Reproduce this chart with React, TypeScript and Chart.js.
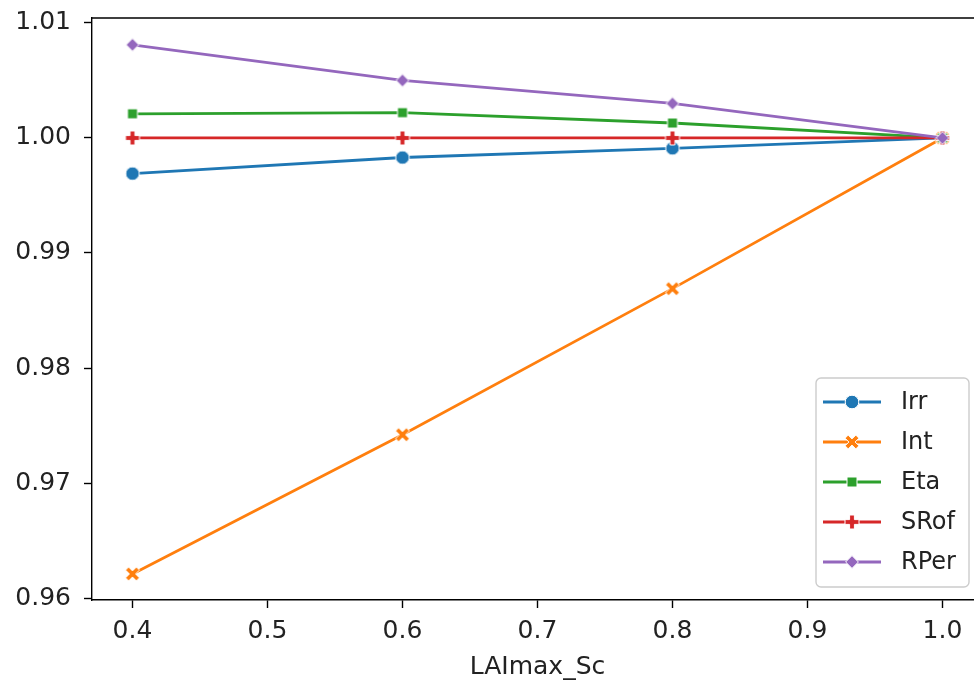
import React, { useEffect, useRef } from 'react';
import { Chart, registerables } from 'chart.js';

Chart.register(...registerables);

// Scenario values along the x axis
const xValues = [0.4, 0.6, 0.8, 1.0];

// Relative responses per variable
const irrValues = [0.9969, 0.9983, 0.9991, 1.0];
const intValues = [0.9621, 0.9742, 0.9869, 1.0];
const etaValues = [1.0021, 1.0022, 1.0013, 1.0];
const srofValues = [1.0, 1.0, 1.0, 1.0];
const rperValues = [1.0081, 1.005, 1.003, 1.0];

const seriesNames = ['Irr', 'Int', 'Eta', 'SRof', 'RPer'];
const seriesColors = ['#1f77b4', '#ff7f0e', '#2ca02c', '#d62728', '#9467bd'];
const seriesMarkers = ['circle', 'x', 'square', 'plus', 'diamond'] as const;

const xTicks = [0.4, 0.5, 0.6, 0.7, 0.8, 0.9, 1.0];
const yTicks = [0.96, 0.97, 0.98, 0.99, 1.0, 1.01];
const xTitle = 'LAImax_Sc';

const FONT = "'DejaVu Sans', sans-serif";
const TEXT = '#222222';
const LINE_W = 2.8;

type MarkerKind = (typeof seriesMarkers)[number];

function tracePolygon(ctx: CanvasRenderingContext2D, pts: number[][], cx: number, cy: number, rot: number) {
  const c = Math.cos(rot);
  const s = Math.sin(rot);
  pts.forEach(([px, py], i) => {
    const x = cx + px * c - py * s;
    const y = cy + px * s + py * c;
    if (i === 0) ctx.moveTo(x, y);
    else ctx.lineTo(x, y);
  });
  ctx.closePath();
}

function plusPoints(a: number, b: number) {
  return [
    [-b, -a], [b, -a], [b, -b], [a, -b], [a, b], [b, b],
    [b, a], [-b, a], [-b, b], [-a, b], [-a, -b], [-b, -b],
  ];
}

function drawMarker(ctx: CanvasRenderingContext2D, kind: MarkerKind, cx: number, cy: number, color: string) {
  ctx.save();
  ctx.beginPath();
  switch (kind) {
    case 'circle':
      ctx.arc(cx, cy, 6.8, 0, Math.PI * 2);
      break;
    case 'square':
      ctx.rect(cx - 5, cy - 5, 10, 10);
      break;
    case 'diamond':
      tracePolygon(ctx, [[0, -6.4], [6.4, 0], [0, 6.4], [-6.4, 0]], cx, cy, 0);
      break;
    case 'plus':
      tracePolygon(ctx, plusPoints(7, 2.4), cx, cy, 0);
      break;
    case 'x':
      tracePolygon(ctx, plusPoints(7.6, 2.2), cx, cy, Math.PI / 4);
      break;
  }
  ctx.fillStyle = color;
  ctx.fill();
  ctx.lineWidth = 1;
  ctx.strokeStyle = '#ffffff';
  ctx.stroke();
  ctx.restore();
}

function markerImage(kind: MarkerKind, color: string) {
  const c = document.createElement('canvas');
  c.width = 22;
  c.height = 22;
  const ctx = c.getContext('2d')!;
  drawMarker(ctx, kind, 11, 11, color);
  return c;
}

// Top and right spines
const framePlugin = {
  id: 'frame',
  afterDatasetsDraw(chart: any) {
    const { ctx, chartArea: a } = chart;
    ctx.save();
    ctx.strokeStyle = '#000000';
    ctx.lineWidth = 1.4;
    ctx.beginPath();
    ctx.moveTo(a.left - 0.7, a.top);
    ctx.lineTo(a.right + 0.7, a.top);
    ctx.moveTo(a.right, a.top);
    ctx.lineTo(a.right, a.bottom);
    ctx.stroke();
    ctx.restore();
  },
};

// Legend in the lower right corner, line + marker per entry
const legendPlugin = {
  id: 'lineLegend',
  afterDraw(chart: any) {
    const { ctx, chartArea: a } = chart;
    const right = a.right - 14;
    const bottom = a.bottom - 13;
    const width = 153;
    const height = 209;
    const left = right - width;
    const top = bottom - height;
    ctx.save();
    ctx.beginPath();
    ctx.roundRect(left, top, width, height, 5);
    ctx.fillStyle = 'rgba(255,255,255,0.8)';
    ctx.fill();
    ctx.strokeStyle = '#cccccc';
    ctx.lineWidth = 1.4;
    ctx.stroke();

    ctx.font = `24px ${FONT}`;
    ctx.textBaseline = 'middle';
    ctx.textAlign = 'left';
    seriesNames.forEach((name, i) => {
      const y = top + 24 + i * 40;
      ctx.beginPath();
      ctx.moveTo(left + 7, y);
      ctx.lineTo(left + 65, y);
      ctx.strokeStyle = seriesColors[i];
      ctx.lineWidth = LINE_W;
      ctx.stroke();
      drawMarker(ctx, seriesMarkers[i], left + 36, y, seriesColors[i]);
      ctx.fillStyle = TEXT;
      ctx.fillText(name, left + 85, y + 1);
    });
    ctx.restore();
  },
};

export default function App() {
  const canvasRef = useRef<HTMLCanvasElement>(null);

  useEffect(() => {
    document.body.style.margin = '0';
    const canvas = canvasRef.current;
    if (!canvas) return;

    const seriesValues = [irrValues, intValues, etaValues, srofValues, rperValues];

    const datasets = seriesNames.map((name, i) => ({
      label: name,
      data: xValues.map((x, j) => ({ x, y: seriesValues[i][j] })),
      borderColor: seriesColors[i],
      backgroundColor: seriesColors[i],
      borderWidth: LINE_W,
      pointStyle: markerImage(seriesMarkers[i], seriesColors[i]) as any,
      pointRadius: 6,
      tension: 0,
      order: seriesNames.length - 1 - i,
    }));

    const tickFont = { family: FONT, size: 25, lineHeight: 1.2 };

    const chart = new Chart(canvas, {
      type: 'line',
      data: { datasets },
      options: {
        animation: false,
        responsive: false,
        devicePixelRatio: 1,
        layout: { padding: { top: 18, right: 17, left: 0, bottom: 0 } },
        plugins: {
          legend: { display: false },
          tooltip: { enabled: false },
        },
        scales: {
          x: {
            type: 'linear',
            min: 0.37,
            max: 1.03,
            afterBuildTicks: (scale: any) => {
              scale.ticks = xTicks.map((v) => ({ value: v }));
            },
            afterFit: (scale: any) => {
              scale.height = 86;
              scale.paddingLeft = 0;
              scale.paddingRight = 0;
            },
            ticks: {
              autoSkip: false,
              maxRotation: 0,
              padding: 8,
              color: TEXT,
              font: tickFont,
              callback: (v: any) => Number(v).toFixed(1),
            },
            grid: {
              drawOnChartArea: false,
              drawTicks: true,
              tickLength: 8,
              tickWidth: 1.4,
              tickColor: '#000000',
            },
            border: { display: true, color: '#000000', width: 1.4 },
            title: {
              display: true,
              text: xTitle,
              color: TEXT,
              font: { family: FONT, size: 25, lineHeight: 1.2 },
              padding: { top: 0, bottom: 4 },
            },
          },
          y: {
            type: 'linear',
            min: 0.95983,
            max: 1.01043,
            afterBuildTicks: (scale: any) => {
              scale.ticks = yTicks.map((v) => ({ value: v }));
            },
            afterFit: (scale: any) => {
              scale.width = 92;
              scale.paddingTop = 0;
              scale.paddingBottom = 0;
            },
            ticks: {
              autoSkip: false,
              padding: 13,
              color: TEXT,
              font: tickFont,
              callback: (v: any) => Number(v).toFixed(2),
            },
            grid: {
              drawOnChartArea: false,
              drawTicks: true,
              tickLength: 8,
              tickWidth: 1.4,
              tickColor: '#000000',
            },
            border: { display: true, color: '#000000', width: 1.4 },
          },
        },
      },
      plugins: [framePlugin, legendPlugin],
    });

    return () => chart.destroy();
  }, []);

  return (
    <div
      style={{
        position: 'absolute',
        left: 0,
        top: 0,
        width: 974,
        height: 686,
        overflow: 'hidden',
        background: '#ffffff',
      }}
    >
      <canvas ref={canvasRef} width={1000} height={686} style={{ display: 'block', width: 1000, height: 686 }} />
    </div>
  );
}
